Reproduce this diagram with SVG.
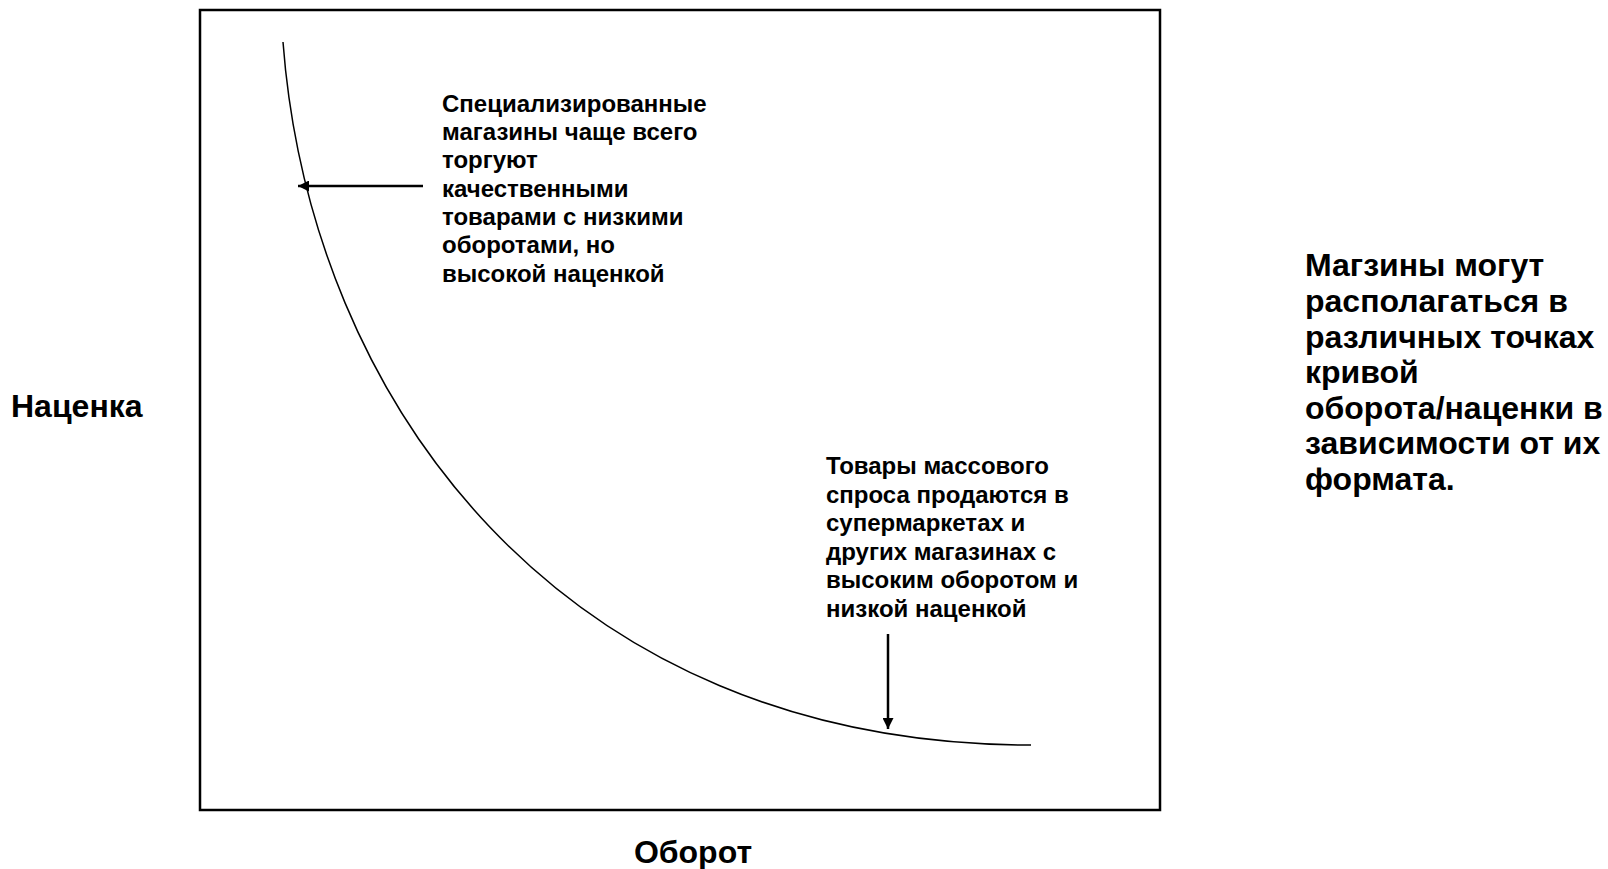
<svg xmlns="http://www.w3.org/2000/svg" width="1608" height="869" viewBox="0 0 1608 869">
<defs>
<style>
.t{font-family:"Liberation Sans",Arial,sans-serif;font-weight:bold;fill:#000}
.a{font-size:24px}
.b{font-size:32px}
.c{fill:none;stroke:#000;stroke-width:1.5}
</style>
<marker id="ah" viewBox="0 0 10 10" refX="10" refY="5" markerWidth="11" markerHeight="11" markerUnits="userSpaceOnUse" orient="auto"><path d="M0,0 L10,5 L0,10 z" fill="#000"/></marker>
</defs>
<rect width="1608" height="869" fill="#fff"/>
<g id="frame"><rect x="200" y="10" width="960" height="800" fill="none" stroke="#000" stroke-width="2.5"/></g>
<g id="curve"><path class="c" d="M283,42 C310,400 560,745 1031,745"/></g>
<g id="connectors">
<line x1="423" y1="186" x2="298" y2="186" stroke="#000" stroke-width="2.5" marker-end="url(#ah)"/>
<line x1="888" y1="634" x2="888" y2="729" stroke="#000" stroke-width="2.5" marker-end="url(#ah)"/>
</g>
<g id="note-top" class="t a">
<text x="442" y="112">Специализированные</text>
<text x="442" y="140">магазины чаще всего</text>
<text x="442" y="168">торгуют</text>
<text x="442" y="197">качественными</text>
<text x="442" y="225">товарами с низкими</text>
<text x="442" y="253">оборотами, но</text>
<text x="442" y="282">высокой наценкой</text>
</g>
<g id="note-bottom" class="t a">
<text x="826" y="474">Товары массового</text>
<text x="826" y="503">спроса продаются в</text>
<text x="826" y="531">супермаркетах и</text>
<text x="826" y="560">других магазинах с</text>
<text x="826" y="588">высоким оборотом и</text>
<text x="826" y="617">низкой наценкой</text>
</g>
<g id="note-right" class="t b">
<text x="1305" y="276">Магзины могут</text>
<text x="1305" y="312">располагаться в</text>
<text x="1305" y="348">различных точках</text>
<text x="1305" y="383">кривой</text>
<text x="1305" y="419">оборота/наценки в</text>
<text x="1305" y="454">зависимости от их</text>
<text x="1305" y="490">формата.</text>
</g>
<g id="axis-y" class="t b"><text x="11" y="417">Наценка</text></g>
<g id="axis-x" class="t b"><text x="693" y="863" text-anchor="middle">Оборот</text></g>
</svg>
